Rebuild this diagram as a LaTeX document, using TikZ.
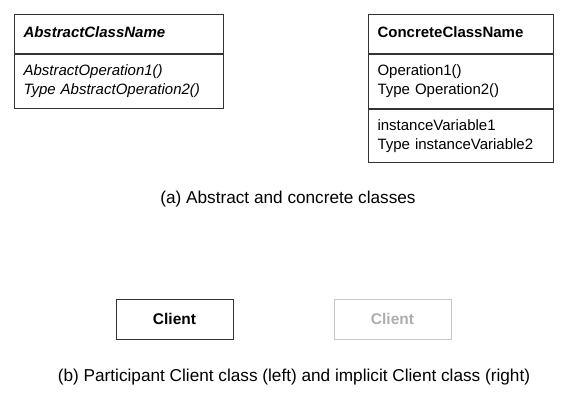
\documentclass[tikz,border=0pt]{standalone}
\usepackage{fontspec}
\setmainfont{Liberation Sans}
\usetikzlibrary{positioning}

\begin{document}
\begin{tikzpicture}[x=1pt,y=-1pt,
		part/.style={draw=black!80,line width=1pt,anchor=north west,inner xsep=9pt,inner ysep=0pt,
			align=left,font=\fontsize{15}{19}\selectfont},
		head/.style={part,minimum height=39pt,text width=#1,text height=11pt,text depth=3pt},
		body/.style={part,minimum height=54pt,text width=#1},
		client/.style={draw=black!80,line width=1pt,minimum width=117pt,minimum height=40pt,
			inner sep=0pt,font=\fontsize{15.5}{18}\selectfont\bfseries},
		caption/.style={font=\fontsize{17.2}{20}\selectfont}]
		
		% Frame
		\useasboundingbox (0,0) rectangle (564,401);
		
		% Abstract class
		\node[head=191pt] (absname) at (14,14) {\bfseries\itshape AbstractClassName};
		\node[body=191pt,below=0pt of absname.south west,anchor=north west] (absops)
		{\itshape AbstractOperation1()\\ \itshape Type AbstractOperation2()};
		
		% Concrete class
		\node[head=167pt] (conname) at (368,14) {\bfseries ConcreteClassName};
		\node[body=167pt,below=0pt of conname.south west,anchor=north west] (conops)
		{Operation1()\\ Type Operation2()};
		\node[body=167pt,minimum height=53pt,below=0pt of conops.south west,anchor=north west] (convars)
		{instanceVariable1\\ Type instanceVariable2};
		
		\node[caption] (capa) at (288,199) {(a) Abstract and concrete classes};
		
		% Client classes
		\node[client] (client) at (174.5,319) {Client};
		\node[client,draw=black!22,text=black!32] (implicit) at (392.5,319) {Client};
		
		\node[caption] (capb) at (294,377) {(b) Participant Client class (left) and implicit Client class (right)};
		
	\end{tikzpicture}
\end{document}
